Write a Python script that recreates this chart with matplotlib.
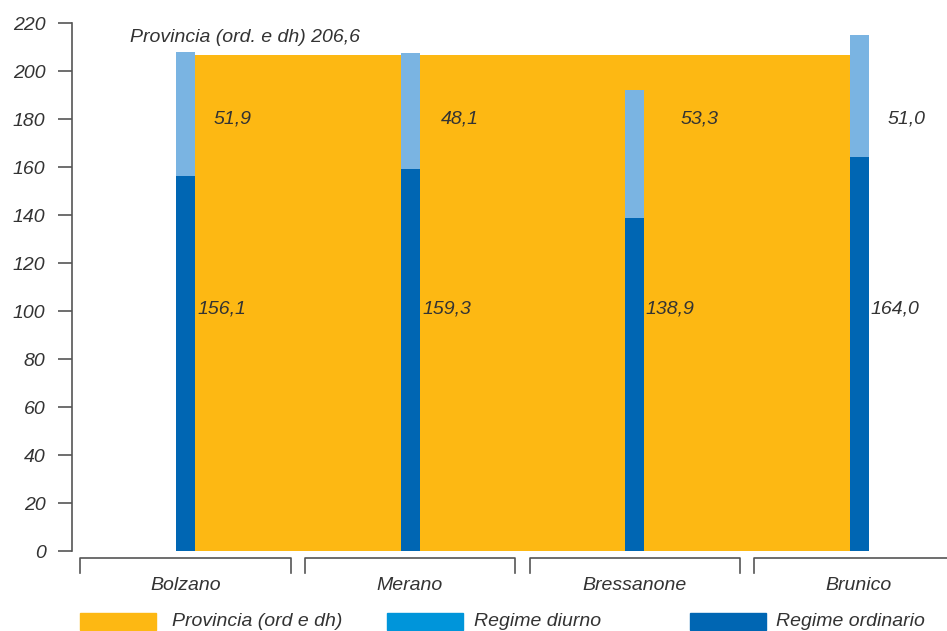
import matplotlib
matplotlib.use("Agg")
import matplotlib.pyplot as plt
from matplotlib.patches import Rectangle
from matplotlib.transforms import blended_transform_factory

categories = ["Bolzano", "Merano", "Bressanone", "Brunico"]
ordinario = [156.1, 159.3, 138.9, 164.0]
diurno = [51.9, 48.1, 53.3, 51.0]
provincia = 206.6
ord_labels = ["156,1", "159,3", "138,9", "164,0"]
diu_labels = ["51,9", "48,1", "53,3", "51,0"]
prov_label = "Provincia (ord. e dh) 206,6"
legend_labels = ["Provincia (ord e dh)", "Regime diurno", "Regime ordinario"]
yticks = list(range(0, 221, 20))

ORANGE = "#FDB813"
DARK = "#0066B3"
LIGHT = "#7AB4E2"
LEG_LIGHT = "#0095DA"
TXT = "#333333"
AX = "#555555"

plt.rcParams['font.family'] = ['Liberation Sans Narrow', 'Liberation Sans', 'DejaVu Sans']
FS = 14

W, H = 947, 631
fig = plt.figure(figsize=(W / 100, H / 100), dpi=100)
ax = fig.add_axes([72 / W, 1 - 551 / H, 1 - 72 / W, (551 - 23) / H])

px = 224.5  # pixels per category unit
left_x = (72 - 185.5) / px
right_x = (947 - 185.5) / px
ax.set_xlim(left_x, right_x)
ax.set_ylim(0, 220)

bw = 19 / px
x = list(range(len(categories)))

# province area between first and last bar
ax.bar((x[0] + x[-1]) / 2, provincia, width=(x[-1] - x[0]) - bw, color=ORANGE, zorder=1)
ax.bar(x, ordinario, width=bw, color=DARK, zorder=2)
ax.bar(x, diurno, bottom=ordinario, width=bw, color=LIGHT, zorder=2)

ord_off = [3, 3, 2, 2]
diu_off = [19, 21, 37, 19]
for i in x:
    ax.text(i + bw / 2 + ord_off[i] / px, 101, ord_labels[i], style='italic', fontsize=FS,
            color=TXT, ha='left', va='center', zorder=3)
    ax.text(i + bw / 2 + diu_off[i] / px, 180, diu_labels[i], style='italic', fontsize=FS,
            color=TXT, ha='left', va='center', zorder=3)

ax.text((130 - 185.5) / px, (551 - 38) / 2.4, prov_label, style='italic', fontsize=FS,
        color=TXT, ha='left', va='center')

# axes styling
for s in ['top', 'right', 'bottom']:
    ax.spines[s].set_visible(False)
ax.spines['left'].set_color(AX)
ax.spines['left'].set_linewidth(1.2)
ax.set_yticks(yticks)
ax.set_yticklabels([str(t) for t in yticks], style='italic', fontsize=FS, color=TXT)
ax.tick_params(axis='y', length=10, width=1.2, color=AX, pad=9)
ax.set_xticks([])

# category brackets
tr = blended_transform_factory(ax.transData, fig.transFigure)
y_top = 1 - 558 / H
y_bot = 1 - 573 / H
half = 105 / px
for i, c in enumerate(categories):
    xl, xr = i - half, i + half
    ax.plot([xl, xl, xr, xr], [y_bot, y_top, y_top, y_bot], color=AX, lw=1.2,
            transform=tr, clip_on=False)
    ax.text(i, 1 - 585 / H, c, transform=tr, ha='center', va='center',
            style='italic', fontsize=FS, color=TXT)

# legend
leg_colors = [ORANGE, LEG_LIGHT, DARK]
patch_x = [80, 387, 690]
text_x = [172, 474, 776]
for col, lab, pxl, tx in zip(leg_colors, legend_labels, patch_x, text_x):
    fig.patches.append(Rectangle((pxl / W, 1 - 630 / H), 76 / W, 17 / H, color=col,
                                 transform=fig.transFigure, figure=fig))
    fig.text(tx / W, 1 - 621 / H, lab, ha='left', va='center', style='italic',
             fontsize=FS, color=TXT)

fig.savefig("out.png", dpi=100)
